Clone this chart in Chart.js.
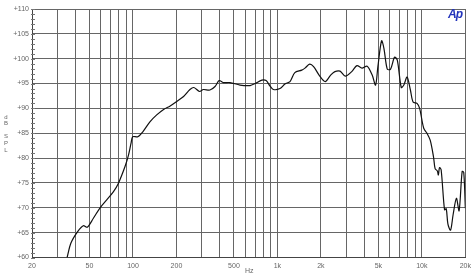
<!DOCTYPE html>
<html>
<head>
<meta charset="utf-8">
<script src="https://cdn.jsdelivr.net/npm/chart.js@4/dist/chart.umd.min.js"></script>
<style>
    html, body { margin: 0; padding: 0; background: #fff; }
    #wrap { position: relative; width: 475px; height: 275px; }
    #logo { position: absolute; left: 448px; top: 7px; font-family: "Liberation Sans", Arial, sans-serif;
            font-weight: bold; font-style: italic; font-size: 12px; color: #2233bb; letter-spacing: -1px; }
</style>
</head>
<body>
<div id="wrap">
    <canvas id="splChart" width="475" height="275"></canvas>
    <div id="logo">Ap</div>
</div>
<script>
// measured response (Hz / dB SPL)
const freqs = [35, 37.2, 41.4, 45.3, 48.3, 53.2, 59.2, 65.8, 73.1, 79.2, 88.1, 92.9, 97, 99.6, 108, 117,
    131, 146, 163, 181, 201, 224, 248, 264, 289, 307, 341, 370, 395, 422, 469, 551, 647, 700, 780, 835,
    889, 938, 1042, 1127, 1222, 1320, 1474, 1551, 1672, 1780, 1953, 2141, 2338, 2500, 2713, 2950, 3270,
    3550, 3850, 4180, 4530, 4780, 4960, 5260, 5460, 5760, 6070, 6470, 6760, 7200, 7500, 7900, 8330, 8690,
    9260, 9650, 10300, 10850, 11420, 12030, 12350, 12800, 13000, 13250, 13600, 14350, 14750, 15150, 15800,
    16450, 17350, 18100, 19000, 19500, 20000];
const spl = [60.0, 62.9, 65.2, 66.4, 66.1, 67.9, 70.0, 71.6, 73.2, 74.9, 78.3, 80.5, 83.0, 84.3, 84.3, 85.3,
    87.3, 88.7, 89.8, 90.5, 91.4, 92.4, 93.8, 94.2, 93.4, 93.8, 93.7, 94.4, 95.6, 95.2, 95.2, 94.7, 94.6, 95.0, 95.7, 95.6,
    94.5, 93.8, 94.0, 94.9, 95.4, 97.2, 97.7, 98.1, 98.9, 98.4, 96.6, 95.4, 96.7, 97.4, 97.5, 96.5, 97.4,
    98.6, 98.1, 98.5, 96.7, 94.7, 98.4, 103.6, 102.1, 97.9, 97.9, 100.3, 99.7, 94.2, 94.7, 96.3, 93.7, 91.3,
    91.0, 90.0, 86.0, 85.0, 83.6, 80.3, 77.9, 77.4, 76.6, 78.1, 77.6, 69.6, 69.8, 66.7, 65.5,
    68.6, 71.9, 69.4, 77.3, 77.1, 69.9];

// vertical grid lines and which of them get a label
const gridFreqs = [20, 30, 40, 50, 60, 70, 80, 90, 100, 200, 300, 400, 500, 600, 700, 800, 900,
    1000, 2000, 3000, 4000, 5000, 6000, 7000, 8000, 9000, 10000, 20000];
const freqLabels = { 20: '20', 50: '50', 100: '100', 200: '200', 500: '500', 1000: '1k', 2000: '2k',
    5000: '5k', 10000: '10k', 20000: '20k' };
const dbTicks = [60, 65, 70, 75, 80, 85, 90, 95, 100, 105, 110];

const fontFamily = '"Liberation Sans", Arial, sans-serif';
const tickFont = { family: fontFamily, size: 7 };

// 1 dB ticks on the left edge, stacked "dB SPL" title and "Hz"
const extras = {
    id: 'extras',
    afterDraw(chart) {
        const y = chart.scales.y;
        const ctx = chart.ctx;
        const area = chart.chartArea;
        ctx.save();
        ctx.strokeStyle = '#777';
        ctx.lineWidth = 1;
        for (let v = 60; v <= 110; v++) {
            const py = Math.round(y.getPixelForValue(v)) + 0.5;
            ctx.beginPath();
            ctx.moveTo(area.left - 1, py);
            ctx.lineTo(area.left + 3, py);
            ctx.stroke();
        }
        ctx.fillStyle = '#666';
        ctx.font = '6px ' + fontFamily;
        ctx.textAlign = 'center';
        ctx.textBaseline = 'middle';
        const title = [['d', 117], ['B', 123], ['S', 136], ['P', 143.5], ['L', 150]];
        title.forEach(([ch, py]) => ctx.fillText(ch, 6, py));
        ctx.font = '7px ' + fontFamily;
        ctx.fillText('Hz', (area.left + area.right) / 2 + 0.5, 271);
        ctx.restore();
    }
};

const ctx = document.getElementById('splChart').getContext('2d');
new Chart(ctx, {
    type: 'scatter',
    data: {
        datasets: [{
            data: freqs.map((f, i) => ({ x: f, y: spl[i] })),
            showLine: true,
            borderColor: '#111',
            borderWidth: 1.2,
            pointRadius: 0,
            tension: 0.3
        }]
    },
    options: {
        responsive: false,
        animation: false,
        layout: { padding: { top: 9, right: 9.5, left: 0, bottom: 0 } },
        plugins: { legend: { display: false }, tooltip: { enabled: false } },
        scales: {
            x: {
                type: 'logarithmic',
                min: 20,
                max: 20000,
                afterBuildTicks: (scale) => { scale.ticks = gridFreqs.map(v => ({ value: v })); },
                afterFit: (scale) => { scale.height = 17.5; },
                grid: { color: '#666', lineWidth: 1, drawTicks: false },
                border: { color: '#444' },
                ticks: {
                    autoSkip: false,
                    maxRotation: 0,
                    padding: 4,
                    color: '#666',
                    font: tickFont,
                    callback: (v) => freqLabels[v] || ''
                }
            },
            y: {
                min: 60,
                max: 110,
                afterBuildTicks: (scale) => { scale.ticks = dbTicks.map(v => ({ value: v })); },
                afterFit: (scale) => { scale.width = 32; },
                grid: { color: '#666', lineWidth: 1, drawTicks: false },
                border: { color: '#444' },
                ticks: {
                    padding: 3,
                    color: '#666',
                    font: tickFont,
                    callback: (v) => '+' + v
                }
            }
        }
    },
    plugins: [extras]
});
</script>
</body>
</html>
